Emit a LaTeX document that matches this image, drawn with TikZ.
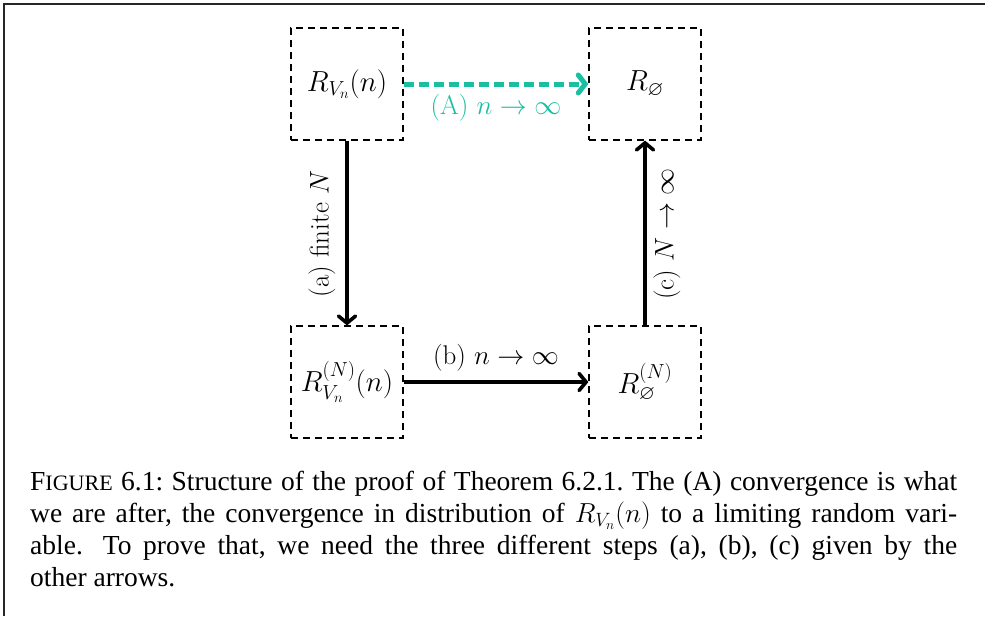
\RequirePackage{fix-cm}
\documentclass[tikz,border=0pt]{standalone}
\usepackage{amssymb}
\usepackage{fontspec}
\newfontfamily\capfont{Liberation Serif}
\usetikzlibrary{arrows.meta}
\definecolor{teal1}{RGB}{26,190,160}
\tikzset{
  box/.style={draw, dash pattern=on 7pt off 5pt, line width=1.2pt, minimum width=112pt, minimum height=112pt, inner sep=0pt, font=\fontsize{29}{34}\selectfont},
  solidarrow/.style={line width=3.6pt, -{Straight Barb[length=7pt,width=17pt,line cap=round]}},
  tealarrow/.style={line width=5pt, teal1, dash pattern=on 10pt off 5pt, -{Straight Barb[length=7pt,width=18pt,line cap=round]}},
  lbl/.style={font=\fontsize{27}{32}\selectfont, inner sep=0pt},
}
\begin{document}
\begin{tikzpicture}[x=1pt,y=-1pt]
\useasboundingbox (0,0) rectangle (985,616);
\draw[line width=1.6pt, black!85] (4,616) -- (4,4) -- (985,4);
\node[box] (tl) at (347,84) {$R_{V_n}(n)$};
\node[box] (tr) at (645,84) {$R_{\varnothing}$};
\node[box] (bl) at (347,382) {$R^{(N)}_{V_n}(n)$};
\node[box] (br) at (645,382) {$R^{(N)}_{\varnothing}$};
\draw[tealarrow] (tl.east) -- (tr.west);
\draw[solidarrow] (tl.south) -- (bl.north);
\draw[solidarrow] (bl.east) -- (br.west);
\draw[solidarrow] (br.north) -- (tr.south);
\node[lbl, text=teal1] (la) at (496,108) {(A) $n\to\infty$};
\node[lbl] (lb) at (496,358) {(b) $n\to\infty$};
\node[lbl, rotate=90] (lsa) at (322,234) {(a) finite $N$};
\node[lbl, rotate=90] (lsc) at (667,234) {(c) $N\to\infty$};
\node[anchor=base west, inner sep=0pt] (cap) at (30,490) {\parbox[t]{927pt}{\fontsize{27.5}{32}\selectfont\capfont\frenchspacing F{\fontsize{22}{32}\selectfont IGURE} 6.1: Structure of the proof of Theorem 6.2.1. The (A) convergence is what\linebreak we are after, the convergence in distribution of $R_{V_n}(n)$ to a limiting random vari-\linebreak able.\hspace{0.3em} To prove that, we need the three different steps (a), (b), (c) given by the\linebreak other arrows.}};
\end{tikzpicture}
\end{document}
